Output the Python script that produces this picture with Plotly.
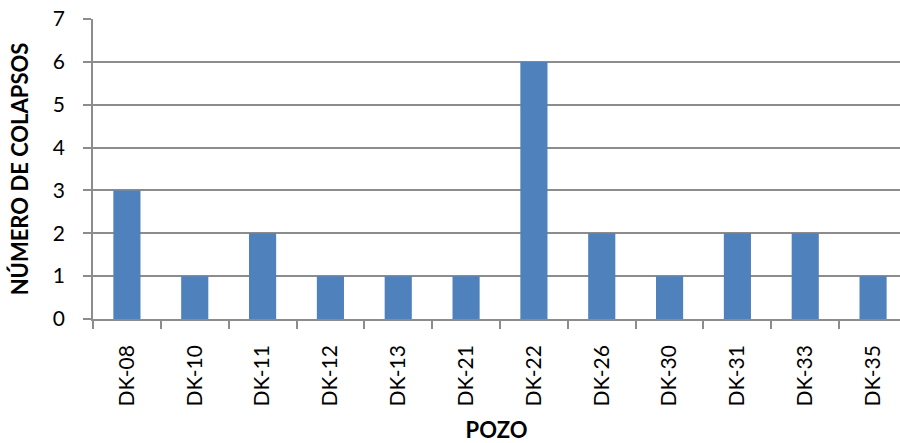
import plotly.graph_objects as go

# Wells and number of collapses recorded in each
pozos = ["DK-08", "DK-10", "DK-11", "DK-12", "DK-13", "DK-21",
         "DK-22", "DK-26", "DK-30", "DK-31", "DK-33", "DK-35"]
colapsos = [3, 1, 2, 1, 1, 1, 6, 2, 1, 2, 2, 1]

y_ticks = [0, 1, 2, 3, 4, 5, 6, 7]

BAR_COLOR = "#4F81BD"
GRID_COLOR = "#8C8C8C"
FONT = "Lato, Liberation Sans, sans-serif"

fig = go.Figure(
    go.Bar(
        x=pozos,
        y=colapsos,
        marker=dict(color=BAR_COLOR, line=dict(width=0)),
        width=0.4,
    )
)

fig.update_layout(
    width=900,
    height=443,
    margin=dict(l=93, r=0, t=19, b=124),
    plot_bgcolor="white",
    paper_bgcolor="white",
    showlegend=False,
    font=dict(family=FONT, color="black"),
)

fig.update_xaxes(
    type="category",
    range=[-0.5, 11.397],
    tickangle=-90,
    tickfont=dict(size=21),
    ticks="outside",
    tickson="boundaries",
    ticklen=8,
    tickcolor=GRID_COLOR,
    tickwidth=1.5,
    ticklabelstandoff=16,
    showline=True,
    linecolor=GRID_COLOR,
    linewidth=1.5,
    showgrid=False,
    zeroline=False,
    title=dict(text="<b>POZO</b>", font=dict(size=22), standoff=18),
)

fig.update_yaxes(
    range=[0, 7],
    tickmode="array",
    tickvals=y_ticks,
    tickfont=dict(size=21),
    ticks="outside",
    ticklen=8,
    tickcolor=GRID_COLOR,
    tickwidth=1.5,
    ticklabelstandoff=14,
    showline=True,
    linecolor=GRID_COLOR,
    linewidth=1.5,
    showgrid=True,
    gridcolor=GRID_COLOR,
    gridwidth=1.5,
    zeroline=False,
    title=dict(text="<b>NÚMERO DE COLAPSOS</b>", font=dict(size=22), standoff=18),
)

fig.write_html("out.html")
